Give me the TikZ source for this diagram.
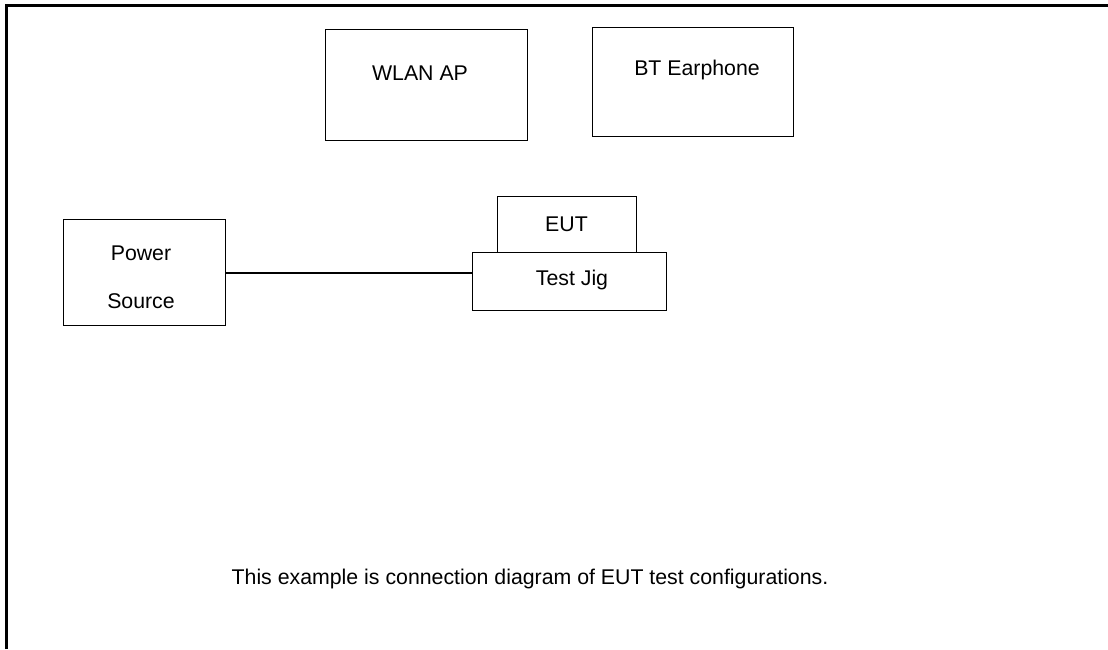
\documentclass[tikz,border=0pt]{standalone}
\usepackage{fontspec}
\setmainfont{Liberation Sans}
\begin{document}
\begin{tikzpicture}[x=1pt,y=-1pt,
  box/.style={draw=black, line width=1.2pt, inner sep=0pt, anchor=north west},
  lbl/.style={font=\fontsize{21.3}{25}\selectfont, inner sep=0pt}]
\useasboundingbox (0,0) rectangle (1108,649);
% outer frame
\draw[line width=2.5pt] (6.5,649) -- (6.5,5.5) -- (1108,5.5);
% boxes
\node[box, minimum width=202pt, minimum height=111pt] (wlan) at (325,29) {};
\node[lbl] (wlantxt) at (420,73) {WLAN AP};
\node[box, minimum width=201pt, minimum height=109pt] (bt) at (592,27) {};
\node[lbl] (bttxt) at (697,70) {BT Earphone};
\node[box, minimum width=139pt, minimum height=58pt] (eut) at (497,196) {};
\node[lbl] (euttxt) at (566.5,224) {EUT};
\node[box, minimum width=194pt, minimum height=58pt, fill=white] (jig) at (472,252) {};
\node[lbl] (jigtxt) at (572,280) {Test Jig};
\node[box, minimum width=162pt, minimum height=106pt] (power) at (63,219) {};
\node[lbl, align=center, font=\fontsize{21.3}{48}\selectfont] (powertxt) at (141,277) {Power\\Source};
% connector
\draw[line width=1.8pt] (power.east) -- (power.east -| jig.west);
% caption
\node[lbl] (caption) at (530,579) {This example is connection diagram of EUT test configurations.};
\end{tikzpicture}
\end{document}
